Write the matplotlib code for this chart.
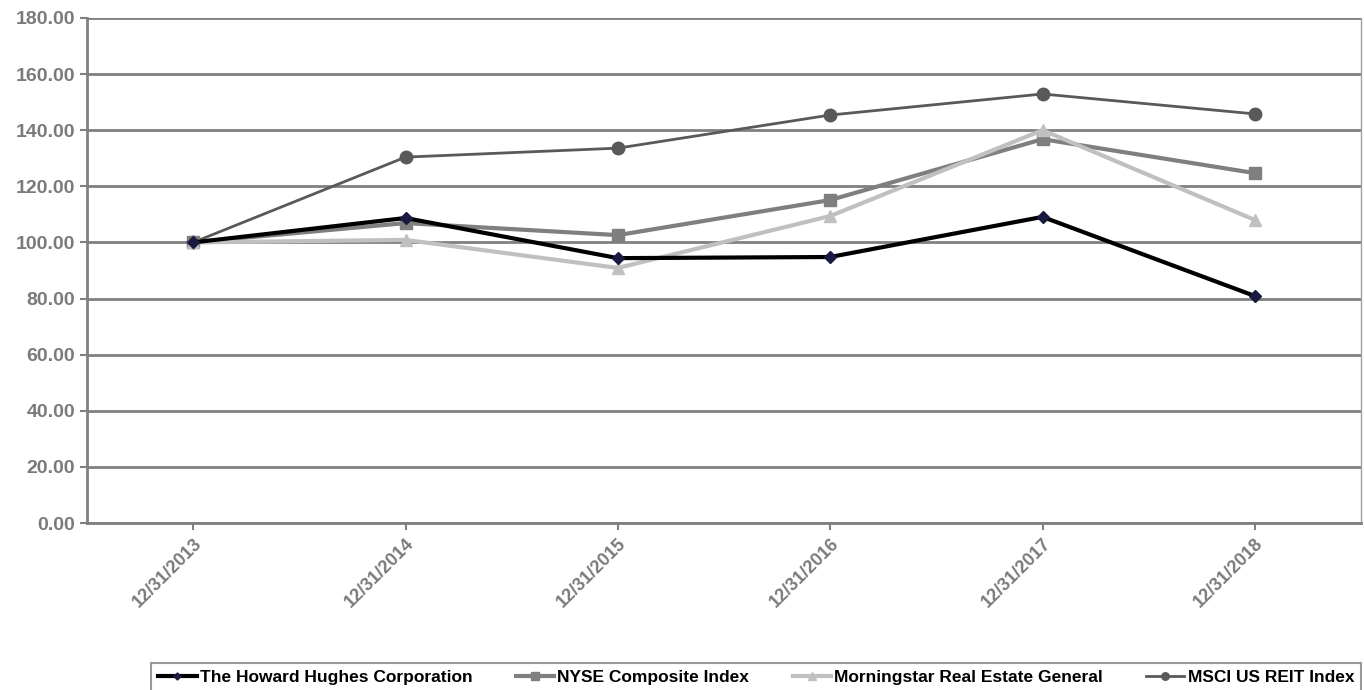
import matplotlib
matplotlib.use('Agg')
from matplotlib import pyplot as plt
from matplotlib import font_manager

dates = ['12/31/2013', '12/31/2014', '12/31/2015', '12/31/2016', '12/31/2017', '12/31/2018']
hhc = [100.0, 108.7, 94.4, 94.8, 109.1, 80.9]
nyse = [100.0, 106.9, 102.6, 115.1, 136.8, 124.7]
morningstar = [100.0, 100.9, 90.9, 109.4, 140.0, 108.0]
msci = [100.0, 130.4, 133.6, 145.4, 152.9, 145.8]

names = [f.name for f in font_manager.fontManager.ttflist]
narrow = 'Liberation Sans Narrow' if 'Liberation Sans Narrow' in names else 'Liberation Sans'
plt.rcParams['font.family'] = ['Liberation Sans', 'DejaVu Sans']

fig = plt.figure(figsize=(13.64, 6.9), dpi=100)
ax = fig.add_axes([0.0638, 0.242, 0.9340, 0.732])

x = [i + 0.5 for i in range(len(dates))]
ax.plot(x, msci, color='#595959', lw=2, marker='o', ms=9, label='MSCI US REIT Index', zorder=3)
ax.plot(x, nyse, color='#7f7f7f', lw=3, marker='s', ms=9, label='NYSE Composite Index', zorder=4)
ax.plot(x, morningstar, color='#c0c0c0', lw=3, marker='^', ms=9, label='Morningstar Real Estate General', zorder=5)
ax.plot(x, hhc, color='#000000', lw=3, marker='D', ms=6, mfc='#1a1a40', mec='#1a1a40',
        label='The Howard Hughes Corporation', zorder=6)

ax.set_xlim(0, 6)
ax.set_ylim(0, 180)
ax.set_yticks(range(0, 181, 20))
ax.set_yticklabels([f'{v:.2f}' for v in range(0, 181, 20)])
ax.set_xticks(x)
ax.set_xticklabels(dates, rotation=45, ha='right', rotation_mode='anchor')
ax.grid(axis='y', color='#808080', lw=2)
ax.set_axisbelow(True)

ax.spines['top'].set_visible(False)
ax.spines['right'].set_color('#a0a0a0')
ax.spines['right'].set_linewidth(1)
for s in ['left', 'bottom']:
    ax.spines[s].set_color('#808080')
    ax.spines[s].set_linewidth(2)

ax.tick_params(axis='both', colors='#808080', length=5, width=1.5, labelcolor='#7a7a7a')
ax.tick_params(axis='y', labelsize=14)
ax.tick_params(axis='x', labelsize=13)
for lab in ax.get_xticklabels() + ax.get_yticklabels():
    lab.set_fontweight('bold')

handles, labels = ax.get_legend_handles_labels()
order = [3, 1, 2, 0]
leg = fig.legend([handles[i] for i in order], [labels[i] for i in order],
                 loc='upper left', bbox_to_anchor=(0.111, 0.0, 0.887, 0.039), mode='expand',
                 ncol=4, frameon=True, fancybox=False, edgecolor='#808080',
                 prop={'family': narrow, 'weight': 'bold', 'size': 12.5},
                 handlelength=2.2, handletextpad=0.2, markerscale=0.6, borderaxespad=0)
leg.get_frame().set_linewidth(1.5)

fig.savefig('out.png', dpi=100)
